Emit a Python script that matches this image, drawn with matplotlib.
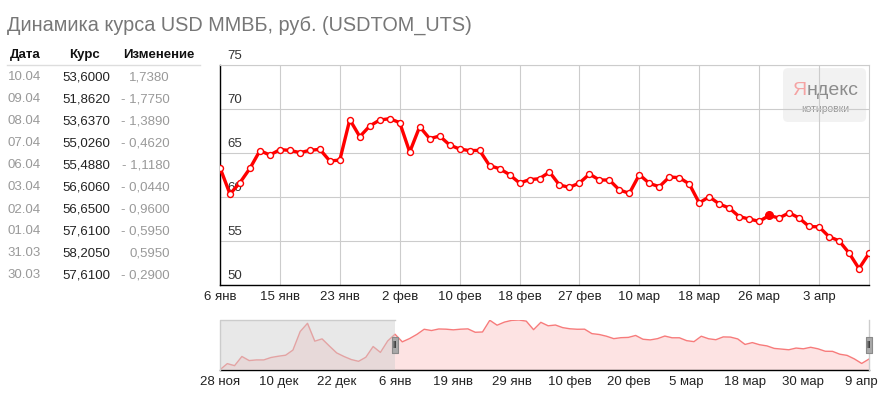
import matplotlib
matplotlib.use("Agg")
import matplotlib.pyplot as plt
from matplotlib.patches import FancyBboxPatch, Rectangle
import numpy as np

plt.rcParams['font.family'] = ['Liberation Sans', 'DejaVu Sans']

# ---------------- data ----------------
title = "Динамика курса USD ММВБ, руб. (USDTOM_UTS)"

main_dates = [
    "06.01", "08.01", "09.01", "12.01", "13.01", "14.01", "15.01", "16.01", "19.01", "20.01",
    "21.01", "22.01", "23.01", "26.01", "27.01", "28.01", "29.01", "30.01",
    "02.02", "03.02", "04.02", "05.02", "06.02", "09.02", "10.02", "11.02", "12.02", "13.02",
    "16.02", "17.02", "18.02", "19.02", "20.02", "24.02", "25.02", "26.02", "27.02",
    "02.03", "03.03", "04.03", "05.03", "06.03", "10.03", "11.03", "12.03", "13.03",
    "16.03", "17.03", "18.03", "19.03", "20.03", "23.03", "24.03", "25.03", "26.03", "27.03",
    "30.03", "31.03", "01.04", "02.04", "03.04", "06.04", "07.04", "08.04", "09.04", "10.04",
]
main_values = [
    63.33, 60.34, 61.63, 63.26, 65.27, 64.77, 65.38, 65.30, 65.04, 65.30,
    65.42, 64.09, 64.20, 68.79, 66.86, 68.07, 68.75, 68.90,
    68.45, 65.11, 67.99, 66.63, 66.93, 65.91, 65.45, 65.27, 65.30, 63.56,
    63.22, 62.54, 61.59, 61.97, 62.08, 62.84, 61.36, 61.10, 61.59,
    62.61, 61.93, 61.93, 60.80, 60.42, 62.54, 61.55, 61.17, 62.27,
    62.20, 61.48, 59.32, 60.04, 59.20, 58.75, 57.77, 57.50, 57.23, 57.90,
    57.61, 58.205, 57.61, 56.65, 56.606, 55.488, 55.026, 53.637, 51.862, 53.60,
]
highlight_date = "27.03"

main_tick_dates = ["06.01", "15.01", "23.01", "02.02", "10.02", "18.02",
                   "27.02", "10.03", "18.03", "26.03", "03.04"]
main_tick_labels = ["6 янв", "15 янв", "23 янв", "2 фев", "10 фев", "18 фев",
                    "27 фев", "10 мар", "18 мар", "26 мар", "3 апр"]
y_ticks = [50, 55, 60, 65, 70, 75]

# navigator: earlier history before the selected window
pre_dates = [
    "28.11", "01.12", "02.12", "03.12", "04.12", "05.12", "08.12", "09.12", "10.12", "11.12",
    "12.12", "15.12", "16.12", "17.12", "18.12", "19.12", "22.12", "23.12", "24.12", "25.12",
    "26.12", "29.12", "30.12", "05.01",
]
pre_values = [
    49.4, 51.8, 51.0, 54.6, 53.0, 53.25, 53.25, 54.2, 54.7, 55.1,
    57.1, 64.4, 67.6, 60.6, 61.5, 58.7, 56.0, 54.6, 53.4, 52.7,
    54.3, 58.5, 56.2, 60.7,
]
nav_tick_dates = ["28.11", "10.12", "22.12", "06.01", "19.01", "29.01",
                  "10.02", "20.02", "05.03", "18.03", "30.03", "09.04"]
nav_tick_labels = ["28 ноя", "10 дек", "22 дек", "6 янв", "19 янв", "29 янв",
                   "10 фев", "20 фев", "5 мар", "18 мар", "30 мар", "9 апр"]

table_header = ["Дата", "Курс", "Изменение"]
table_dates = ["10.04", "09.04", "08.04", "07.04", "06.04",
               "03.04", "02.04", "01.04", "31.03", "30.03"]
table_rates = [53.6000, 51.8620, 53.6370, 55.0260, 55.4880,
               56.6060, 56.6500, 57.6100, 58.2050, 57.6100]
table_changes = [1.7380, -1.7750, -1.3890, -0.4620, -1.1180,
                 -0.0440, -0.9600, -0.5950, 0.5950, -0.2900]

# ---------------- layout helpers ----------------
W, H = 885, 395
fig = plt.figure(figsize=(W / 100, H / 100), dpi=100)
fig.patch.set_facecolor("white")


def fx(px):
    return px / W


def fy(py):
    return 1 - py / H


# ---------------- title ----------------
fig.text(fx(7), fy(31), title, fontsize=14.3, color="#777777", va="baseline", ha="left")

# ---------------- table ----------------
hdr_y = 55
fig.text(fx(25), fy(hdr_y), table_header[0], fontsize=9.5, fontweight="bold",
         color="#111111", ha="center", va="center")
fig.text(fx(84), fy(hdr_y), table_header[1], fontsize=9.5, fontweight="bold",
         color="#111111", ha="center", va="center")
fig.text(fx(158.5), fy(hdr_y), table_header[2], fontsize=9.5, fontweight="bold",
         color="#111111", ha="center", va="center")
fig.add_artist(plt.Line2D([fx(7), fx(200)], [fy(65), fy(65)], color="#dddddd", lw=1))


def fmt_num(v):
    return f"{abs(v):.4f}".replace(".", ",")


for k, (d, r, c) in enumerate(zip(table_dates, table_rates, table_changes)):
    yy = fy(77.5 + 22 * k)
    fig.text(fx(7.5), yy, d, fontsize=9.5, color="#999999", ha="left", va="center")
    fig.text(fx(110), yy, fmt_num(r), fontsize=9.5, color="#222222", ha="right", va="center")
    ctext = ("- " if c < 0 else "") + fmt_num(c)
    fig.text(fx(169.5), yy, ctext, fontsize=9.5, color="#999999", ha="right", va="center")

# ---------------- main chart ----------------
ax = fig.add_axes([fx(220), fy(285), (869 - 220) / W, 220 / H])
xm = np.arange(len(main_values))
ax.plot(xm, main_values, color="#ff0000", lw=2.4, marker="o", ms=4.3,
        mfc="white", mec="#ff0000", mew=1.0, zorder=3, solid_joinstyle="round")
hi = main_dates.index(highlight_date)
ax.plot([xm[hi]], [main_values[hi]], marker="o", ms=5.5, color="#ff0000", zorder=4)

ax.set_xlim(0, len(main_values) - 1)
ax.set_ylim(min(y_ticks), max(y_ticks))
ax.set_xticks([main_dates.index(d) for d in main_tick_dates])
ax.set_xticklabels(main_tick_labels)
ax.set_yticks(y_ticks)
ax.set_yticklabels([])
ax.set_axisbelow(True)
ax.grid(True, color="#cccccc", lw=0.8)
ax.tick_params(axis="both", length=0)
ax.tick_params(axis="x", pad=4, labelsize=9.5, labelcolor="#222222")
for s in ["top", "right"]:
    ax.spines[s].set_color("#cccccc")
    ax.spines[s].set_linewidth(0.8)
for s in ["left", "bottom"]:
    ax.spines[s].set_color("#000000")
    ax.spines[s].set_linewidth(1.0)

for v in y_ticks:
    ax.annotate(str(v), xy=(0, v), xycoords=("axes fraction", "data"),
                xytext=(7, 3), textcoords="offset pixels", ha="left", va="bottom",
                fontsize=9.5, color="#333333", annotation_clip=False, zorder=2)

# Yandex logo
box = FancyBboxPatch((0.8675, 0.741), 0.128, 0.245, boxstyle="round,pad=0,rounding_size=0.008",
                     transform=ax.transAxes, facecolor="#f2f2f2", edgecolor="none",
                     zorder=0.1, mutation_aspect=2.9)
ax.add_patch(box)
t1 = ax.text(0.8815, 0.862, "Я", transform=ax.transAxes, fontsize=14,
             color="#f5a3a3", ha="left", va="baseline", zorder=0.2)
ax.annotate("ндекс", xy=(1, 0), xycoords=t1, xytext=(0, 0), textcoords="offset pixels",
            fontsize=14, color="#8c8c8c", ha="left", va="bottom", zorder=0.2)
ax.text(0.9325, 0.800, "котировки", transform=ax.transAxes, fontsize=7.5,
        color="#999999", ha="center", va="center", zorder=0.2)

# ---------------- navigator ----------------
nav = fig.add_axes([fx(220), fy(370), (869 - 220) / W, 50 / H])
nav_dates = pre_dates + main_dates
nav_values = pre_values + main_values
xn = np.arange(len(nav_values))
nav_ylo, nav_yhi = 49.3, 68.9
nav.fill_between(xn, nav_values, nav_ylo, color="#fde3e3", lw=0, zorder=1)
nav.plot(xn, nav_values, color="#f77b7b", lw=1.0, zorder=2)
nav.set_xlim(0, len(nav_values) - 1)
nav.set_ylim(nav_ylo, nav_yhi)
nav.set_xticks([nav_dates.index(d) for d in nav_tick_dates])
nav.set_xticklabels(nav_tick_labels)
nav.set_yticks([])
nav.tick_params(axis="x", length=0, pad=4, labelsize=9.5, labelcolor="#222222")
for s in ["top", "left", "right"]:
    nav.spines[s].set_visible(False)
nav.spines["bottom"].set_color("#000000")
nav.spines["bottom"].set_linewidth(1.0)

sel_start = nav_dates.index(main_dates[0])
sel_end = nav_dates.index(main_dates[-1])
shade = Rectangle((0, 0), sel_start, 1, transform=nav.get_xaxis_transform(),
                  facecolor="#cfcfcf", alpha=0.48, edgecolor="none", zorder=3)
nav.add_patch(shade)
nav.plot([0, 0, sel_start], [0, 1, 1], transform=nav.get_xaxis_transform(),
         color="#cccccc", lw=1, zorder=3, clip_on=False)
nav.plot([sel_end, sel_end], [0, 1], transform=nav.get_xaxis_transform(),
         color="#cccccc", lw=1, zorder=3, clip_on=False)
handle = [(-0.42, -1), (0.42, -1), (0.42, 1), (-0.42, 1), (-0.42, -1)]
for hx in (sel_start, sel_end):
    nav.plot([hx], [0.5], transform=nav.get_xaxis_transform(), marker=handle, ms=11,
             mfc="#a9a9a9", mec="#8a8a8a", mew=0.8, ls="none", zorder=5, clip_on=False)
    nav.text(hx, 0.5, "||", transform=nav.get_xaxis_transform(), fontsize=5.5,
             color="#333333", ha="center", va="center", zorder=6, fontweight="bold")

fig.savefig("out.png", dpi=100, facecolor="white")
